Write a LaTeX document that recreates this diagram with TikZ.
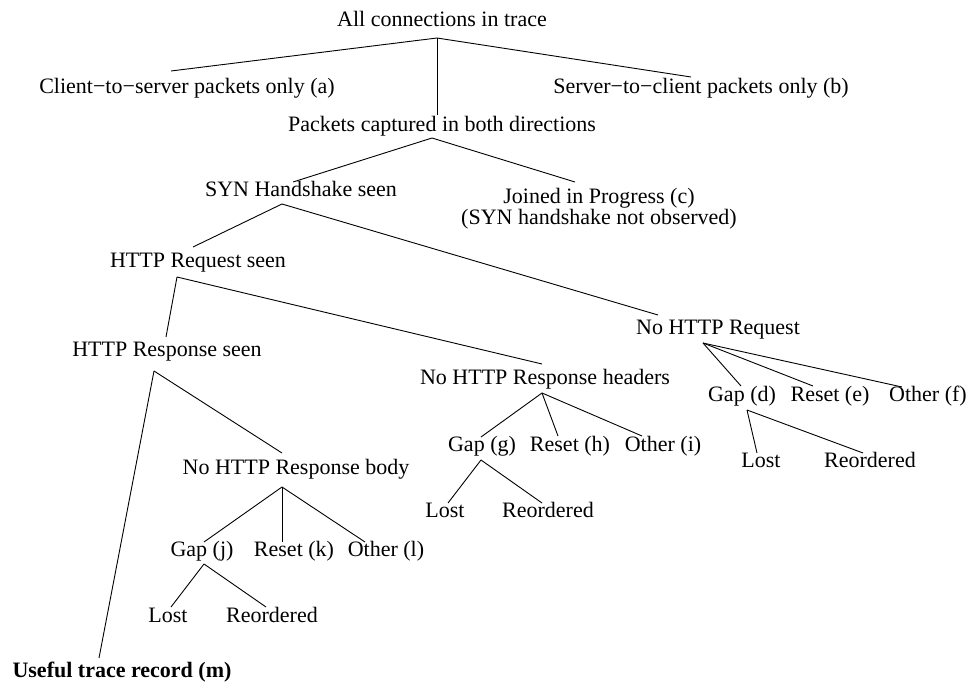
\documentclass[tikz,border=0pt]{standalone}
\usepackage{fontspec}
\setmainfont{Liberation Serif}
\begin{document}
\begin{tikzpicture}[x=1bp,y=-1bp,
  lbl/.style={inner sep=0pt,font=\fontsize{22bp}{21bp}\selectfont,text height=15.4bp,text depth=5.5bp},
  lbl2/.style={inner sep=0pt,font=\fontsize{22bp}{21bp}\selectfont,align=center},
  edge/.style={draw=black,line width=0.9bp}]
\useasboundingbox (0,0) rectangle (969,685);
% nodes
\node[lbl] (root) at (442,22) {All connections in trace};
\node[lbl] (a) at (187,89) {Client−to−server packets only (a)};
\node[lbl] (b) at (701,89) {Server−to−client packets only (b)};
\node[lbl] (both) at (442,127) {Packets captured in both directions};
\node[lbl] (syn) at (301,192) {SYN Handshake seen};
\node[lbl2] (joined) at (599,209) {Joined in Progress (c)\\(SYN handshake not observed)};
\node[lbl] (req) at (198,263) {HTTP Request seen};
\node[lbl] (noreq) at (718,330) {No HTTP Request};
\node[lbl] (resp) at (167,352) {HTTP Response seen};
\node[lbl] (nohdr) at (545,380) {No HTTP Response headers};
\node[lbl] (gapd) at (742,397) {Gap (d)};
\node[lbl] (resete) at (830,397) {Reset (e)};
\node[lbl] (otherf) at (928,397) {Other (f)};
\node[lbl] (gapg) at (482,447) {Gap (g)};
\node[lbl] (reseth) at (570,447) {Reset (h)};
\node[lbl] (otheri) at (663,447) {Other (i)};
\node[lbl] (lostd) at (761,463) {Lost};
\node[lbl] (reordd) at (870,463) {Reordered};
\node[lbl] (nobody) at (296,470) {No HTTP Response body};
\node[lbl] (lostg) at (445,513) {Lost};
\node[lbl] (reordg) at (548,513) {Reordered};
\node[lbl] (gapj) at (202,552) {Gap (j)};
\node[lbl] (resetk) at (294,552) {Reset (k)};
\node[lbl] (otherl) at (386,552) {Other (l)};
\node[lbl] (lostj) at (168,618) {Lost};
\node[lbl] (reordj) at (272,618) {Reordered};
\node[lbl,font=\fontsize{22bp}{21bp}\selectfont\bfseries] (useful) at (122,673) {Useful trace record (m)};
% connectors
\path[edge] ([shift={(-5,16)}]root.center) -- ([shift={(-16,-18)}]a.center);
\path[edge] ([shift={(-5,16)}]root.center) -- ([shift={(-10,-12)}]b.center);
\path[edge] ([shift={(-5,16)}]root.center) -- ([shift={(-5,-12)}]both.center);
\path[edge] ([shift={(-10,11)}]both.center) -- ([shift={(-8,-10)}]syn.center);
\path[edge] ([shift={(-10,11)}]both.center) -- ([shift={(-24,-27)}]joined.center);
\path[edge] ([shift={(-19,12)}]syn.center) -- ([shift={(-5,-16)}]req.center);
\path[edge] ([shift={(-19,12)}]syn.center) -- ([shift={(-60,-15)}]noreq.center);
\path[edge] ([shift={(-21,14)}]req.center) -- ([shift={(-1,-15)}]resp.center);
\path[edge] ([shift={(-21,14)}]req.center) -- ([shift={(-3,-16)}]nohdr.center);
\path[edge] ([shift={(-13,19)}]resp.center) -- ([shift={(-23,-15)}]useful.center);
\path[edge] ([shift={(-13,19)}]resp.center) -- ([shift={(-14,-17)}]nobody.center);
\path[edge] ([shift={(-14,17)}]nobody.center) -- ([shift={(2,-10)}]gapj.center);
\path[edge] ([shift={(-14,17)}]nobody.center) -- ([shift={(-12,-10)}]resetk.center);
\path[edge] ([shift={(-14,17)}]nobody.center) -- ([shift={(-21,-10)}]otherl.center);
\path[edge] ([shift={(2,12)}]gapj.center) -- ([shift={(3,-11)}]lostj.center);
\path[edge] ([shift={(2,12)}]gapj.center) -- ([shift={(-6,-11)}]reordj.center);
\path[edge] ([shift={(-3,13)}]nohdr.center) -- ([shift={(-1,-10)}]gapg.center);
\path[edge] ([shift={(-3,13)}]nohdr.center) -- ([shift={(-12,-11)}]reseth.center);
\path[edge] ([shift={(-3,13)}]nohdr.center) -- ([shift={(-21,-11)}]otheri.center);
\path[edge] ([shift={(-1,13)}]gapg.center) -- ([shift={(3,-10)}]lostg.center);
\path[edge] ([shift={(-1,13)}]gapg.center) -- ([shift={(-6,-10)}]reordg.center);
\path[edge] ([shift={(-15,13)}]noreq.center) -- ([shift={(-1,-11)}]gapd.center);
\path[edge] ([shift={(-15,13)}]noreq.center) -- ([shift={(-17,-11)}]resete.center);
\path[edge] ([shift={(-15,13)}]noreq.center) -- ([shift={(-26,-10)}]otherf.center);
\path[edge] ([shift={(5,13)}]gapd.center) -- ([shift={(-4,-10)}]lostd.center);
\path[edge] ([shift={(5,13)}]gapd.center) -- ([shift={(-7,-10)}]reordd.center);
\end{tikzpicture}
\end{document}
